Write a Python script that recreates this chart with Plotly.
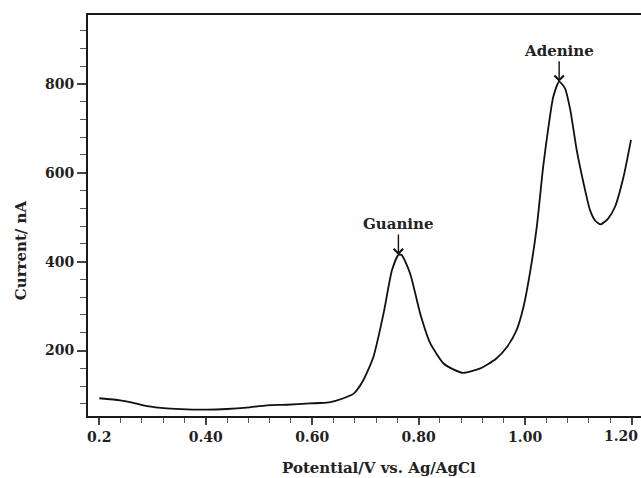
import plotly.graph_objects as go

potential = [0.200, 0.239, 0.258, 0.290, 0.327, 0.365, 0.402, 0.440, 0.477, 0.515,
             0.552, 0.596, 0.615, 0.634, 0.655, 0.678, 0.696, 0.715, 0.734, 0.750,
             0.762, 0.768, 0.784, 0.803, 0.822, 0.847, 0.866, 0.884, 0.916, 0.945,
             0.966, 0.984, 0.997, 1.009, 1.022, 1.034, 1.044, 1.053, 1.064, 1.075,
             1.085, 1.097, 1.110, 1.122, 1.132, 1.142, 1.156, 1.169, 1.185, 1.199]
current = [92.6, 88, 84, 75, 70, 67.8, 67, 68.5, 71.6, 76.8,
           78, 81, 82, 84, 91, 103, 133, 185.6, 283, 381,
           415, 415, 373.5, 283, 216, 170.8, 157, 149.6, 160, 181,
           208, 245.8, 298, 373.5, 478.5, 613.6, 703.7, 771, 805, 790,
           741, 651, 576, 516, 492, 484, 497, 523.5, 591, 674]

x_tickvals = [0.2, 0.4, 0.6, 0.8, 1.0, 1.2]
x_ticktext = ["0.2", "0.40", "0.60", "0.80", "1.00", "1.20"]
y_tickvals = [200, 400, 600, 800]
y_ticktext = ["200", "400", "600", "800"]
peak_names = ["Guanine", "Adenine"]
peak_windows = [(0.7, 0.85), (1.0, 1.12)]

FONT = "DejaVu Serif"
TICKFONT = dict(family=FONT, size=14, color="#222222", weight="bold")

fig = go.Figure()
fig.add_trace(go.Scatter(x=potential, y=current, mode="lines",
                         line=dict(color="#111111", width=1.8, shape="spline", smoothing=0.6),
                         showlegend=False, hoverinfo="skip"))

annotations = []
for name, (lo, hi) in zip(peak_names, peak_windows):
    idx = [i for i, v in enumerate(potential) if lo <= v <= hi]
    pi = max(idx, key=lambda i: current[i])
    annotations.append(dict(
        x=potential[pi], y=current[pi], xref="x", yref="y",
        text=name, showarrow=True, ax=0, ay=-31,
        arrowhead=4, arrowsize=1.3, arrowwidth=1.4, arrowcolor="#111111",
        standoff=0, startstandoff=0,
        font=dict(family=FONT, size=15, color="#222222", weight="bold")))

# last x tick label placed so it stays inside the page (as in the reference)
shown_ticktext = x_ticktext[:-1] + [""]
annotations.append(dict(text=x_ticktext[-1], xref="paper", yref="paper",
                        x=1.0, xshift=-1, y=-(436 - 415.7) / 400.7, showarrow=False,
                        xanchor="right", yanchor="middle", font=TICKFONT))

annotations.append(dict(text="Potential/V vs. Ag/AgCl", xref="paper", yref="paper",
                        x=(379 - 88) / 553, y=-(468 - 415.7) / 400.7, showarrow=False,
                        xanchor="center", yanchor="middle",
                        font=dict(family=FONT, size=15, color="#222222", weight="bold")))
annotations.append(dict(text="Current/ nA", xref="paper", yref="paper",
                        x=-(88 - 21) / 553, y=(415.7 - 250) / 400.7, showarrow=False,
                        textangle=-90, xanchor="center", yanchor="middle",
                        font=dict(family=FONT, size=15, color="#222222", weight="bold")))

fig.update_layout(
    width=641, height=478,
    margin=dict(l=88, r=0, t=15, b=62),
    paper_bgcolor="white", plot_bgcolor="white",
    annotations=annotations,
    xaxis=dict(range=[0.1788, 1.2178], tickvals=x_tickvals, ticktext=shown_ticktext,
               ticks="outside", ticklen=7, tickwidth=1.5, tickcolor="#444444",
               showline=True, linewidth=2, linecolor="#1a1a1a", mirror=True,
               showgrid=False, zeroline=False, automargin=False,
               tickfont=TICKFONT,
               minor=dict(ticks="outside", ticklen=5, tickwidth=1.2, tickcolor="#555555",
                          tick0=0.2, dtick=0.04, showgrid=False)),
    yaxis=dict(range=[52.7, 955], tickvals=y_tickvals, ticktext=y_ticktext,
               ticks="outside", ticklen=9, tickwidth=1.5, tickcolor="#444444",
               showline=True, linewidth=2, linecolor="#1a1a1a", mirror=False,
               showgrid=False, zeroline=False, automargin=False,
               tickfont=TICKFONT,
               minor=dict(ticks="outside", ticklen=6, tickwidth=1.2, tickcolor="#555555",
                          tick0=0, dtick=40, showgrid=False)),
)

fig.write_html("out.html")
